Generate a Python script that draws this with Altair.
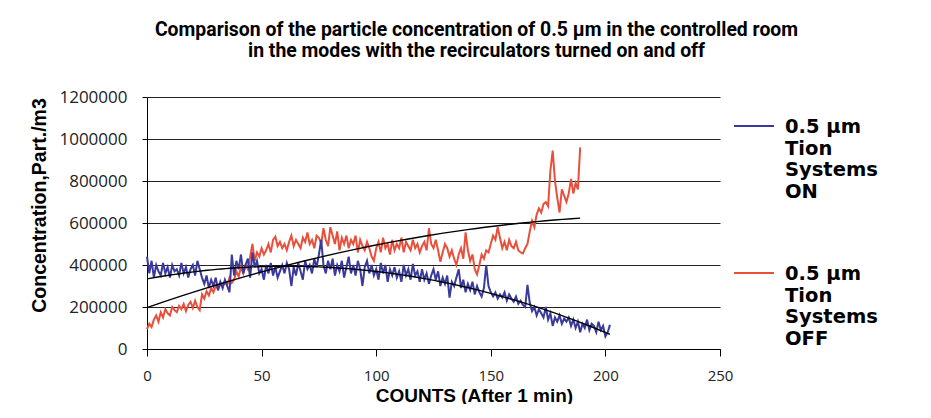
import altair as alt
import pandas as pd

# counts (one per minute) and concentrations in thousands of particles / m3
counts_off = list(range(190))
off_k = [
    95, 120, 105, 140, 160, 130, 175, 150, 190, 170,
    160, 200, 185, 175, 205, 190, 215, 180, 210, 225,
    195, 230, 200, 185, 260, 240, 275, 255, 290, 270,
    300, 285, 310, 295, 320, 305, 340, 315, 330, 370,
    345, 390, 360, 400, 380, 440, 500, 420, 460, 440,
    480, 450, 470, 500, 460, 520, 535, 490, 510, 480,
    500, 470, 510, 540, 490, 520, 500, 480, 530, 510,
    555, 500, 520, 480, 540, 530, 500, 575, 520, 490,
    580, 540, 500, 560, 470, 530, 500, 540, 480, 520,
    500, 540, 460, 520, 490, 470, 510, 480, 440, 420,
    480, 510, 460, 530, 480, 500, 450, 520, 470, 500,
    480, 530, 460, 510, 490, 470, 520, 480, 500, 460,
    490, 510, 470, 575, 500, 480, 520, 470, 415, 460,
    500, 480, 440, 470, 430, 400, 450, 480, 430, 555,
    470, 420, 450, 380, 355, 400, 450, 430, 470, 460,
    500, 540, 520, 580, 530, 480, 510, 470, 520, 490,
    480, 510, 470, 460, 455, 480, 500, 560, 610, 580,
    640, 670, 650, 690, 700, 680, 850, 945, 800, 720,
    650, 760, 730, 700, 740, 810, 740, 790, 760, 960,
]

counts_on = list(range(203))
on_k = [
    440, 360, 420, 340, 400, 370, 350, 410, 360, 390,
    340, 400, 370, 380, 350, 410, 360, 390, 340, 380,
    400, 350, 420, 380, 340, 310, 350, 290, 330, 300,
    340, 280, 320, 290, 330, 300, 270, 450, 350, 420,
    380, 450, 360, 400, 430, 340, 460, 390, 420, 360,
    380, 330, 400, 360, 410, 350, 390, 340, 370, 400,
    360, 410, 380, 300, 390, 350, 410, 370, 330, 420,
    380, 400, 360, 430, 390, 450, 520, 400, 360, 420,
    380, 430, 350, 400, 370, 420, 340, 390, 440, 360,
    400, 350, 420, 380, 300, 390, 420, 360, 400, 350,
    380, 330, 410, 360, 400, 320, 380, 350, 390, 340,
    370, 320, 400, 350, 380, 330, 405, 350, 370, 320,
    380, 330, 360, 310, 350, 380, 330, 370, 300, 340,
    310, 350, 245, 320, 300, 340, 380, 290, 330, 270,
    310, 280, 320, 260, 300, 270, 250, 290, 400, 300,
    270, 250, 270, 240, 260, 245, 270, 230, 260, 240,
    225, 250, 215, 230, 210, 200, 305, 220, 180, 200,
    160, 190, 170, 150, 200, 140, 170, 110, 150, 130,
    160, 120, 145, 130, 150, 110, 140, 100, 130, 80,
    120, 100, 140, 90, 120, 110, 80, 130, 90, 110,
    60, 80, 115,
]

modes = ["ON", "OFF"]
colors = ["#3a3a9c", "#e9503c"]
x_ticks = [0, 50, 100, 150, 200, 250]
y_ticks = [0, 200000, 400000, 600000, 800000, 1000000, 1200000]

title_lines = [
    "Comparison of the particle concentration of 0.5 µm in the controlled room",
    "in the modes with the recirculators turned on and off",
]

df = pd.DataFrame({
    "count": counts_off + counts_on,
    "value": [v * 1000 for v in off_k] + [v * 1000 for v in on_k],
    "mode": ["OFF"] * len(counts_off) + ["ON"] * len(counts_on),
})

x_enc = alt.X(
    "count:Q",
    scale=alt.Scale(domain=[0, 250], nice=False, zero=False),
    axis=alt.Axis(
        values=x_ticks, title="COUNTS (After 1 min)", grid=False,
        domainColor="#000", tickColor="#000", tickSize=7, labelFlush=False,
        labelFont="Open Sans", labelFontSize=15, labelColor="#222", labelPadding=12,
        titleFont="Liberation Sans", titleFontSize=19, titleFontWeight="bold",
        titleColor="#000", titleX=327, titleY=37, titleBaseline="top",
    ),
)
y_enc = alt.Y(
    "value:Q",
    scale=alt.Scale(domain=[0, 1200000], nice=False),
    axis=alt.Axis(
        values=y_ticks, format="d", title="Concentration,Part./m3", grid=True,
        gridColor="#222222", gridWidth=1.2,
        domainColor="#000", tickColor="#000", tickSize=5,
        labelFont="Open Sans", labelFontSize=17, labelColor="#222", labelPadding=15,
        titleFont="Liberation Sans", titleFontSize=19.5, titleFontWeight="bold",
        titleColor="#000", titleX=-108, titleY=108, titleBaseline="middle",
    ),
)

lines = alt.Chart(df).mark_line(strokeWidth=2).encode(
    x=x_enc,
    y=y_enc,
    color=alt.Color(
        "mode:N",
        scale=alt.Scale(domain=modes, range=colors),
        legend=alt.Legend(
            title=None, orient="none", legendX=586, legendY=15, padding=0,
            symbolType="M-1,-0.35H1", symbolSize=1600, symbolStrokeWidth=2,
            labelExpr="['0.5 µm', 'Tion', 'Systems', datum.label]",
            labelFont="DejaVu Sans", labelFontSize=19.5, labelFontWeight="bold",
            labelColor="#000", labelOffset=10,
            labelBaseline="alphabetic", rowPadding=58, labelLimit=300,
        ),
    ),
)

trend = alt.Chart(df).transform_regression(
    "count", "value", groupby=["mode"], method="poly", order=2
).mark_line(color="#000", strokeWidth=1.4).encode(
    x=x_enc, y=y_enc, detail="mode:N"
)

chart = alt.layer(lines, trend).properties(
    width=573,
    height=252,
    title=alt.TitleParams(
        text=title_lines, font="Roboto", fontSize=19.4, fontWeight="bold",
        color="#000", anchor="middle", frame="group", dx=43, offset=27,
        lineHeight=21,
    ),
    autosize=alt.AutoSizeParams(type="none"),
    padding={"left": 139, "top": 89, "right": 195, "bottom": 55},
    background="#ffffff",
).configure_view(stroke=None)

chart.save("out.html", embed_options={"renderer": "svg", "actions": False})
